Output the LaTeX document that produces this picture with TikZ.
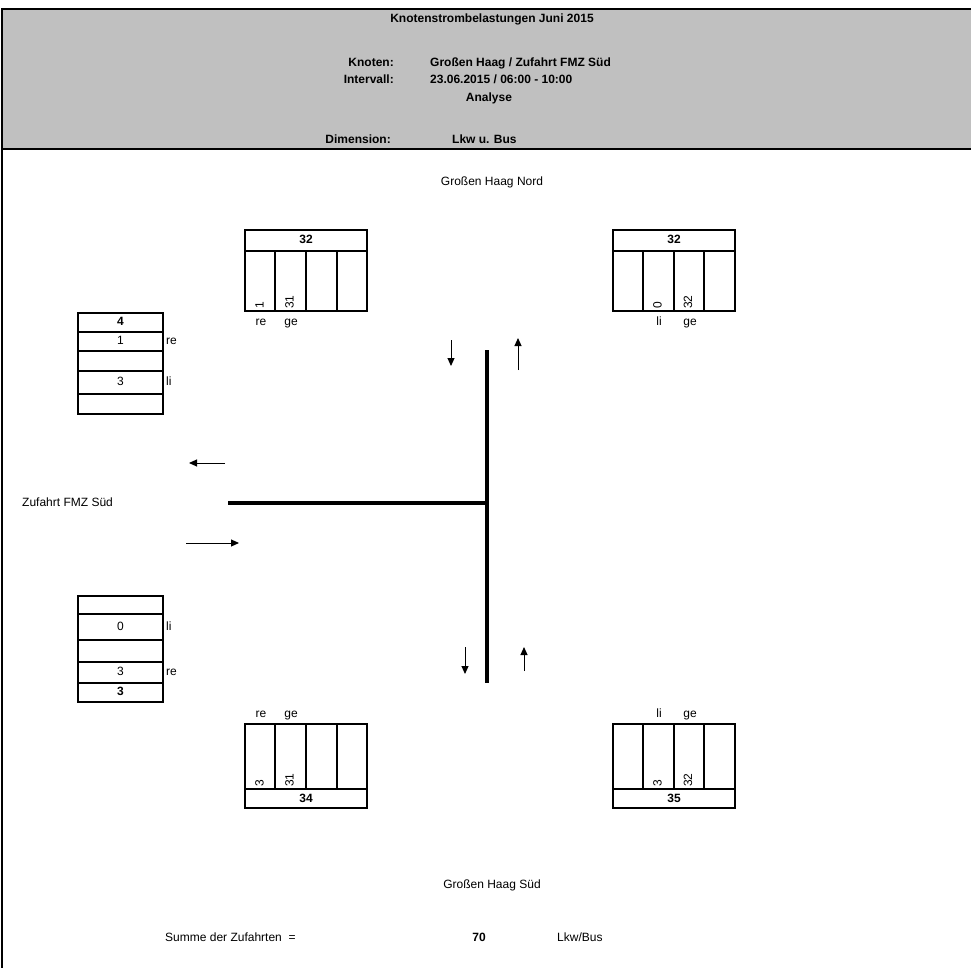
\documentclass[tikz,border=0pt]{standalone}
\usepackage{fontspec}
\setmainfont{Liberation Sans}
\usetikzlibrary{arrows.meta}
\definecolor{hdrgray}{HTML}{C0C0C0}
\begin{document}
\begin{tikzpicture}[x=1pt,y=-1pt,
  every node/.style={font=\fontsize{12}{14}\selectfont, inner sep=0pt, text height=9pt, text depth=2.6pt},
  bx/.style={line width=2pt},
  road/.style={line width=3.6pt},
  flow/.style={line width=1pt,-{Triangle[length=8pt,width=7pt]}},
  val/.style={rotate=90,anchor=west},
  tot/.style={font=\fontsize{12}{14}\selectfont\bfseries},
  lab/.style={anchor=west}]
\useasboundingbox (0,0) rectangle (971,968);
% header
\fill[hdrgray] (2,9) rectangle (971,149);
\draw[line width=2pt] (971,9) -- (2,9) -- (2,968);
\draw[line width=2.4pt] (2,149) -- (971,149);
\node[tot] (title) at (492,19) {Knotenstrombelastungen Juni 2015};
\node[tot,anchor=east] (kn) at (394,63) {Knoten:};
\node[tot,anchor=west] (knv) at (430,63) {Großen Haag / Zufahrt FMZ Süd};
\node[tot,anchor=east] (iv) at (394,80) {Intervall:};
\node[tot,anchor=west] (ivv) at (430,80) {23.06.2015 / 06:00 - 10:00};
\node[tot] (an) at (489,98) {Analyse};
\node[tot,anchor=east] (dim) at (391,140) {Dimension:};
\node[tot,anchor=west] (dimv) at (452,140) {Lkw u. Bus};
% street names
\node (nord) at (492,182) {Großen Haag Nord};
\node (sued) at (492,885) {Großen Haag Süd};
\node[anchor=west] (west) at (22,503) {Zufahrt FMZ Süd};
% top-left box A
\draw[bx] (245,230) rectangle (367,311);
\draw[bx] (245,251) -- (367,251);
\foreach \x in {275,306,337} \draw[bx] (\x,251) -- (\x,311);
\node[tot] (atot) at (306,240.5) {32};
\node[val] (a1) at (260.5,309) {1};
\node[val] (a2) at (290.5,309) {31};
\node (are) at (261,322) {re};
\node (age) at (291,322) {ge};
% top-right box B
\draw[bx] (613,230) rectangle (735,311);
\draw[bx] (613,251) -- (735,251);
\foreach \x in {643,674,704} \draw[bx] (\x,251) -- (\x,311);
\node[tot] (btot) at (674,240.5) {32};
\node[val] (b2) at (658.5,309) {0};
\node[val] (b3) at (689,309) {32};
\node (bli) at (659,322) {li};
\node (bge) at (690,322) {ge};
% bottom-left box E
\draw[bx] (245,724) rectangle (367,808);
\draw[bx] (245,789) -- (367,789);
\foreach \x in {275,306,337} \draw[bx] (\x,724) -- (\x,789);
\node[tot] (etot) at (306,799) {34};
\node[val] (e1) at (260.5,787) {3};
\node[val] (e2) at (290.5,787) {31};
\node (ere) at (261,714) {re};
\node (ege) at (291,714) {ge};
% bottom-right box F
\draw[bx] (613,724) rectangle (735,808);
\draw[bx] (613,789) -- (735,789);
\foreach \x in {643,674,704} \draw[bx] (\x,724) -- (\x,789);
\node[tot] (ftot) at (674,799) {35};
\node[val] (f2) at (658.5,787) {3};
\node[val] (f3) at (689,787) {32};
\node (fli) at (659,714) {li};
\node (fge) at (690,714) {ge};
% left-top box C
\draw[bx] (78,313) rectangle (163,414);
\foreach \y in {331.5,351,371,394} \draw[bx] (78,\y) -- (163,\y);
\node[tot] (ctot) at (120.5,322) {4};
\node (c1) at (120.5,341) {1};
\node[lab] (cre) at (166,341) {re};
\node (c3) at (120.5,382) {3};
\node[lab] (cli) at (166,382) {li};
% left-bottom box D
\draw[bx] (78,596) rectangle (163,702);
\foreach \y in {614,640,661.5,683} \draw[bx] (78,\y) -- (163,\y);
\node (d1) at (120.5,627) {0};
\node[lab] (dli) at (166,627) {li};
\node (d2) at (120.5,672) {3};
\node[lab] (dre) at (166,672) {re};
\node[tot] (dtot) at (120.5,692.5) {3};
% roads
\coordinate (vt) at (487,350);
\coordinate (vb) at (487,683);
\coordinate (jc) at (487,503);
\coordinate (hw) at (228,503);
\draw[road] (vt) -- (vb);
\draw[road] (hw) -- (jc);
% flow arrows
\coordinate (n1s) at (451,340); \coordinate (n1e) at (451,366);
\coordinate (n2s) at (518,370); \coordinate (n2e) at (518,338);
\coordinate (w1s) at (225,463); \coordinate (w1e) at (189,463);
\coordinate (w2s) at (186,543); \coordinate (w2e) at (239,543);
\coordinate (s1s) at (465,647); \coordinate (s1e) at (465,674);
\coordinate (s2s) at (524,671); \coordinate (s2e) at (524,647);
\draw[flow] (n1s) -- (n1e);
\draw[flow] (n2s) -- (n2e);
\draw[flow] (w1s) -- (w1e);
\draw[flow] (w2s) -- (w2e);
\draw[flow] (s1s) -- (s1e);
\draw[flow] (s2s) -- (s2e);
% sum
\node[anchor=west] (sum) at (165,938) {Summe der Zufahrten\ \ =};
\node[tot] (sumv) at (479,938) {70};
\node[anchor=west] (unit) at (557,938) {Lkw/Bus};
\end{tikzpicture}
\end{document}
